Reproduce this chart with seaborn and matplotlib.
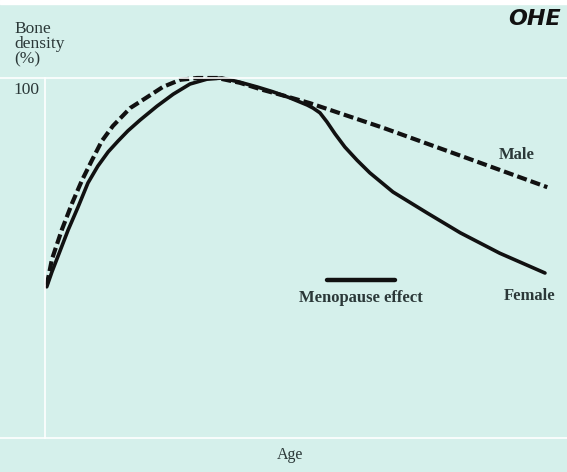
import matplotlib
matplotlib.use("Agg")
import matplotlib.pyplot as plt
import matplotlib.transforms as mtransforms
import seaborn as sns
import pandas as pd
from matplotlib.lines import Line2D
from matplotlib.patches import Rectangle

# Curves (age in arbitrary years, density in % of peak)
female_age = [0.3, 1.2, 2.2, 4.0, 5.7, 7.4, 9.1, 10.9, 12.6, 14.3, 16.4, 19.3, 22.1,
              25.0, 27.9, 30.5, 33.6, 36.6, 39.3, 42.2, 45.2, 46.2, 47.4, 48.6, 50.0,
              51.7, 53.8, 56.0, 60.0, 65.9, 71.6, 78.4, 86.2]
female_density = [65.2, 67.7, 70.2, 74.7, 78.5, 82.5, 85.3, 87.7, 89.5, 91.2, 93.0, 95.3,
                  97.3, 99.0, 99.8, 100, 99.3, 98.5, 97.7, 96.7, 95.5, 95.0, 94.2, 92.7,
                  90.7, 88.5, 86.3, 84.2, 81.0, 77.5, 74.2, 70.8, 67.5]
male_age = [0.3, 1.2, 2.9, 4.7, 6.4, 8.1, 9.8, 11.7, 14.7, 17.6, 20.3, 23.3, 26.2,
            29.7, 33.6, 37.6, 41.4, 45.7, 49.7, 58.3, 66.9, 75.5, 86.6]
male_density = [65.5, 69.8, 74.7, 79.2, 83.0, 86.3, 89.5, 92.0, 95.0, 96.8, 98.5, 99.7,
                100, 100, 99.2, 98.0, 97.0, 95.8, 94.5, 91.7, 88.7, 85.7, 81.8]
menopause_age = [48.6, 60.3]
menopause_density = [66.3, 66.3]

y_ticks = [100]
y_ticklabels = ["100"]

bg = "#d5f0eb"
ink = "#2b3838"

female = pd.DataFrame({"age": female_age, "density": female_density, "sex": "Female"})
male = pd.DataFrame({"age": male_age, "density": male_density, "sex": "Male"})
data = pd.concat([female, male], ignore_index=True)

sns.set_theme(style="white")
plt.rcParams["font.family"] = ["Liberation Serif", "DejaVu Serif"]

fig = plt.figure(figsize=(5.67, 4.72), dpi=100, facecolor=bg)
ax = fig.add_axes([45 / 567, 34 / 472, 1 - 45 / 567, (438 - 78) / 472])
ax.set_facecolor(bg)

sns.lineplot(
    data=data, x="age", y="density", hue="sex", style="sex",
    hue_order=["Female", "Male"], style_order=["Female", "Male"],
    palette={"Female": "#111111", "Male": "#111111"},
    dashes={"Female": "", "Male": (2.4, 1.0)},
    sort=False, estimator=None, legend=False, ax=ax,
)
for line in ax.lines:
    line.set_clip_on(False)
    line.set_solid_joinstyle("round")
    line.set_solid_capstyle("round")
ax.lines[0].set_linewidth(2.6)
ax.lines[1].set_linewidth(3.0)

sns.lineplot(x=menopause_age, y=menopause_density, color="#111111",
             linewidth=3.2, ax=ax)

ax.set_xlim(0, 90)
ax.set_ylim(40, 100)
ax.set_yticks(y_ticks)
ax.set_yticklabels(y_ticklabels, fontsize=12.5, color=ink, va="top")
ax.tick_params(axis="y", length=0, pad=4)
shift = mtransforms.ScaledTranslation(0, -4 / 100, fig.dpi_scale_trans)
for lab in ax.get_yticklabels():
    lab.set_transform(lab.get_transform() + shift)
ax.set_xticks([])
ax.set_xlabel("")
ax.set_ylabel("")
for side in ["top", "right"]:
    ax.spines[side].set_visible(False)
ax.spines["left"].set_color("white")
ax.spines["left"].set_linewidth(1.2)
ax.spines["bottom"].set_visible(False)

# full-width frame rules
for yy in [78, 438]:
    fig.add_artist(Line2D([0, 1], [1 - yy / 472] * 2, transform=fig.transFigure,
                          color="white", linewidth=1.2))
fig.add_artist(Rectangle((0, 1 - 4 / 472), 1, 4 / 472, transform=fig.transFigure,
                         color="white", zorder=0))

fig.text(14 / 567, 1 - 21 / 472, "Bone\ndensity\n(%)", ha="left", va="top",
         fontsize=12.5, color=ink, linespacing=0.95)
fig.text(290 / 567, 1 - 455 / 472, "Age", ha="center", va="center",
         fontsize=11.5, color=ink)
fig.text(561 / 567, 1 - 19 / 472, "OHE", ha="right", va="center", fontsize=16,
         fontstyle="italic", fontweight="bold", color="#111111", family="DejaVu Sans")

ax.text(81.4, 87.2, "Male", ha="center", va="center", fontsize=12,
        fontweight="bold", color=ink)
ax.text(83.6, 63.7, "Female", ha="center", va="center", fontsize=12,
        fontweight="bold", color=ink)
ax.text(54.5, 63.3, "Menopause effect", ha="center", va="center", fontsize=12,
        fontweight="bold", color=ink)

fig.savefig("out.png", dpi=100, facecolor=bg)
